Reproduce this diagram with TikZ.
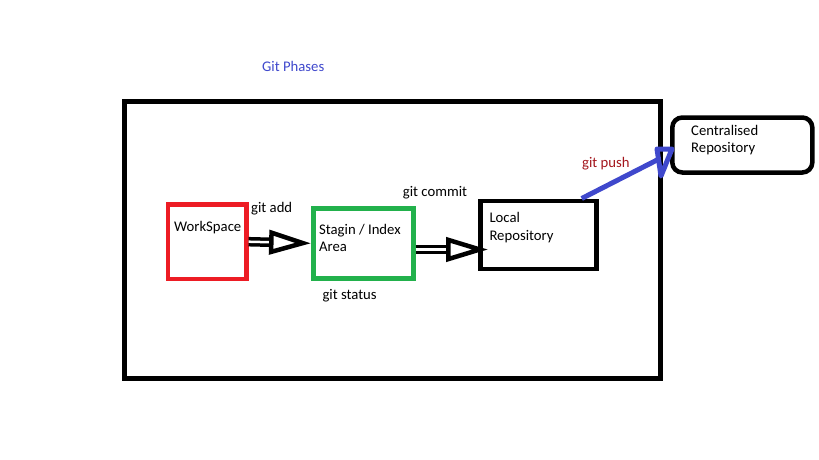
\documentclass[tikz,border=0pt]{standalone}
\usepackage{fontspec}
\setmainfont{Carlito}
\usetikzlibrary{arrows.meta}
\definecolor{wsred}{HTML}{ED1C24}
\definecolor{stgreen}{HTML}{22B14C}
\definecolor{pushblue}{HTML}{3F48CC}
\definecolor{pushred}{HTML}{A3151C}
\tikzset{
  frame/.style={
    draw=black,
    line width=4.5pt,
    inner sep=0pt
  },
  phase/.style={
    draw=black,
    line width=4.5pt,
    inner sep=0pt
  },
  lbl/.style={
    anchor=base west,
    inner sep=0pt,
    align=left,
    font=\fontsize{14.7}{17.6}\selectfont
  },
  hollow/.style={draw, line width=3.5pt, double=white, double distance=2.5pt,
    -{Triangle[open, length=42pt, width=24pt, line width=4.5pt]}},
  push/.style={draw=pushblue, line width=5pt, line join=round}
}

\begin{document}
\begin{tikzpicture}[x=1pt, y=-1pt]
  \useasboundingbox (0,0) rectangle (819,460);
  \node (title) [lbl, text=pushblue] at (262,71.3) {Git Phases};
  \node (outer) [frame, minimum width=536pt, minimum height=277pt] at (392.5,240) {};
  \node (ws) [phase, draw=wsred, minimum width=78.3pt, minimum height=74.7pt] at (207.2,241.7) {};
  \node (st) [phase, draw=stgreen, minimum width=100pt, minimum height=70pt] at (363.3,243.3) {};
  \node (lr) [phase, minimum width=116pt, minimum height=68.3pt] at (538.7,234.9) {};
  \node (cr) [phase, rounded corners=10pt, minimum width=140pt, minimum height=55pt] at (742.3,145) {};
  % two-line labels sit on their last baseline
  \node (wstext) [lbl] at (174,231.7) {WorkSpace};
  \node (sttext) [lbl] at (319,251.6) {Stagin / Index\\Area};
  \node (lrtext) [lbl] at (489.3,240.3) {Local\\Repository};
  \node (crtext) [lbl] at (691,152.6) {Centralised\\Repository};
  \node (add) [lbl] at (251,212.7) {git add};
  \node (commit) [lbl] at (402.7,196.7) {git commit};
  \node (status) [lbl] at (322.3,299.3) {git status};
  \node (pushtext) [lbl, text=pushred] at (582,167) {git push};
  \coordinate (c2) at (488,249.5);
  \coordinate (pushend) at (659,159);
  % hollow arrows between the phases
  \draw [hollow] (ws.east) -- (st.west);
  \draw [hollow] (st.east |- c2) -- (c2);
  % push to the central repository
  \draw [push] ([xshift=43pt]lr.north) -- (pushend);
  \draw [push] (657,149) -- (672,149) -- (661,176) -- cycle;
\end{tikzpicture}
\end{document}
